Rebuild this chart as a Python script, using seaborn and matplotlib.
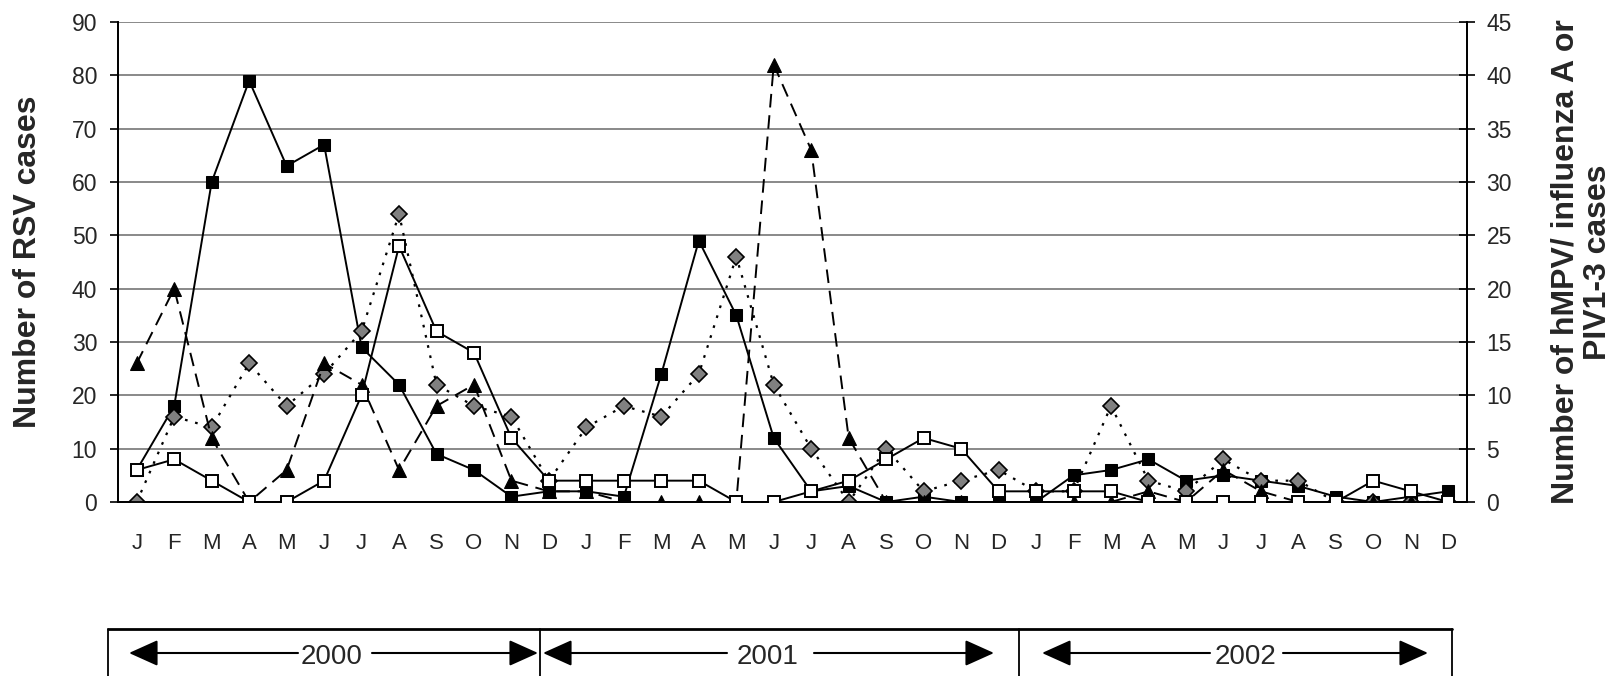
import numpy as np
import pandas as pd
import seaborn as sns
import matplotlib.pyplot as plt

# monthly case counts, Jan 2000 - Dec 2002
months = list('JFMAMJJASOND') * 3
years = ['2000', '2001', '2002']

# RSV (left axis)
rsv = [6, 18, 60, 79, 63, 67, 29, 22, 9, 6, 1, 2,
       2, 1, 24, 49, 35, 12, 2, 3, 0, 1, 0, 0,
       0, 5, 6, 8, 4, 5, 4, 3, 1, 0, 1, 2]
# right axis series
hmpv = [3, 4, 2, 0, 0, 2, 10, 24, 16, 14, 6, 2,
        2, 2, 2, 2, 0, 0, 1, 2, 4, 6, 5, 1,
        1, 1, 1, 0, 0, 0, 0, 0, 0, 2, 1, 0]
piv = [0, 8, 7, 13, 9, 12, 16, 27, 11, 9, 8, 2,
       7, 9, 8, 12, 23, 11, 5, 0, 5, 1, 2, 3,
       1, 1, 9, 2, 1, 4, 2, 2, 0, 0, 0, 0]
flu_a = [13, 20, 6, 0, 3, 13, 11, 3, 9, 11, 2, 1,
         1, 0, 0, 0, 0, 41, 33, 6, 0, 0, 0, 0,
         0, 0, 0, 1, 0, 3, 1, 0, 0, 0, 0, 0]

df = pd.DataFrame({'t': np.arange(len(months)), 'month': months,
                   'rsv': rsv, 'hmpv': hmpv, 'piv': piv, 'flu_a': flu_a})

sns.set_style('white')
plt.rcParams['font.family'] = ['Liberation Sans', 'DejaVu Sans']

W, H = 1616, 676
fig = plt.figure(figsize=(W / 100, H / 100), dpi=100)
ax = fig.add_axes([118 / W, 1 - 502 / H, (1467 - 118) / W, (502 - 22) / H])
ax2 = ax.twinx()

# RSV on left axis
sns.lineplot(data=df, x='t', y='rsv', ax=ax, color='black', linewidth=1.4,
             marker='s', markersize=8.5, markerfacecolor='black',
             markeredgecolor='black', zorder=3)

# other viruses on right axis
sns.lineplot(data=df, x='t', y='piv', ax=ax2, color='black', linewidth=1.6,
             linestyle=(0, (1.2, 3.5)), marker='D', markersize=8,
             markerfacecolor='#808080', markeredgecolor='black',
             markeredgewidth=1.2, zorder=2)
sns.lineplot(data=df, x='t', y='flu_a', ax=ax2, color='black', linewidth=1.4,
             linestyle=(0, (7, 4)), marker='^', markersize=10,
             markerfacecolor='black', markeredgecolor='black', zorder=3)
sns.lineplot(data=df, x='t', y='hmpv', ax=ax2, color='black', linewidth=1.4,
             marker='s', markersize=8.5, markerfacecolor='white',
             markeredgecolor='black', markeredgewidth=1.4, zorder=4)

ax.set_xlim(-0.5, len(months) - 0.5)
ax.set_ylim(0, 90)
ax2.set_ylim(0, 45)
ax.set_yticks(np.arange(0, 91, 10))
ax2.set_yticks(np.arange(0, 46, 5))
ax.set_xticks(df['t'])
ax.set_xticklabels(months)
ax.set_xticks(np.arange(-0.5, len(months), 1), minor=True)

ax.grid(axis='y', color='#808080', linewidth=1.3)
ax.grid(axis='x', visible=False)
ax.set_axisbelow(True)
for a in (ax, ax2):
    a.spines['top'].set_visible(False)
    for s in ('left', 'right', 'bottom'):
        a.spines[s].set_color('black')
        a.spines[s].set_linewidth(1.3)

ax.tick_params(axis='x', which='major', length=0, pad=22, labelsize=16)
ax.tick_params(axis='x', which='minor', length=5, width=1.2, direction='out', color='black')
ax.tick_params(axis='y', length=6, width=1.2, direction='out', pad=9,
               labelsize=16.5, color='black', left=True)
ax2.tick_params(axis='y', length=12, width=1.2, direction='inout', pad=8,
                labelsize=16.5, color='black', right=True)

ax.set_xlabel('')
ax.set_ylabel('Number of RSV cases', fontsize=23, fontweight='bold')
ax.yaxis.set_label_coords((43 - 118) / (1467 - 118), 0.5)
ax2.set_ylabel('Number of hMPV/ influenza A or\nPIV1-3 cases', fontsize=23,
               fontweight='bold', rotation=90, linespacing=1.1)
ax2.yaxis.set_label_coords((1551 - 118) / (1467 - 118), 0.5)

# year box below the chart
bx = fig.add_axes([0, 0, 1, 1], zorder=-1)
bx.set_xlim(0, W)
bx.set_ylim(H, 0)
bx.axis('off')
box_edges = [108, 540, 1019, 1452]
bx.plot([box_edges[0], box_edges[-1]], [629, 629], color='black', lw=2)
for xe in box_edges:
    bx.plot([xe, xe], [629, H + 5], color='black', lw=1.3)
label_x = [332, 768, 1245]
arrow_spans = [((298, 129), (372, 538)), ((727, 543), (814, 994)), ((1210, 1042), (1283, 1428))]
for yr, lx, (left, right) in zip(years, label_x, arrow_spans):
    bx.text(lx, 657, yr, ha='center', va='center', fontsize=20)
    for start, tip in (left, right):
        bx.annotate('', xy=(tip, 653), xytext=(start, 653),
                    arrowprops=dict(arrowstyle='-|>,head_length=1.0,head_width=0.45',
                                    mutation_scale=18, color='black', lw=1.5,
                                    shrinkA=0, shrinkB=0))

fig.savefig('out.png', dpi=100)
